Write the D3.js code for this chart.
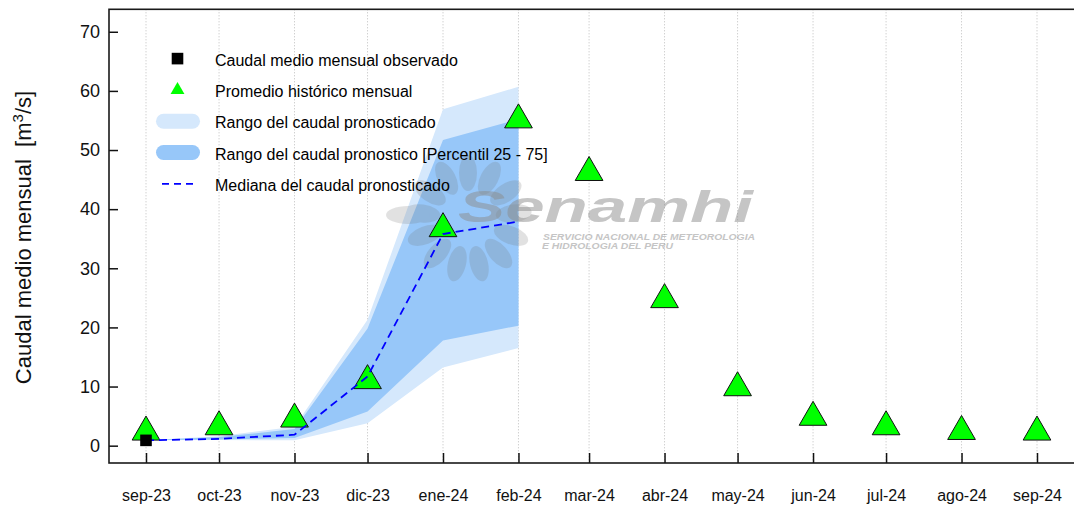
<!DOCTYPE html>
<html>
<head>
<meta charset="utf-8">
<script src="https://cdn.jsdelivr.net/npm/d3@7"></script>
<style>
  html, body { margin: 0; padding: 0; background: #fff; }
  svg { display: block; font-family: "Liberation Sans", Arial, sans-serif; }
</style>
</head>
<body>
<svg id="chart" width="1074" height="506"></svg>
<script>
// Monthly labels (Spanish abbreviations) and their month dates
const monthLabels = ["sep-23", "oct-23", "nov-23", "dic-23", "ene-24", "feb-24",
                     "mar-24", "abr-24", "may-24", "jun-24", "jul-24", "ago-24", "sep-24"];
const monthDates = [
  "2023-09-01", "2023-10-01", "2023-11-01", "2023-12-01", "2024-01-01", "2024-02-01",
  "2024-03-01", "2024-04-01", "2024-05-01", "2024-06-01", "2024-07-01", "2024-08-01", "2024-09-01"
];

// Historical monthly mean flow (m3/s), one per month
const historicalMean = [2.3, 3.2, 4.5, 11.0, 36.7, 55.1, 46.2, 24.7, 9.8, 4.8, 3.2, 2.4, 2.3];

// Observed monthly mean flow (only the first month)
const observed = [0.9];

// Forecast months (first six months)
const forecastMin    = [0.9, 0.95, 0.9, 3.8, 13.2, 16.5];
const forecastMax    = [0.9, 1.6, 3.2, 21.3, 56.9, 60.7];
const forecastP25    = [0.9, 1.05, 1.3, 5.8, 17.8, 20.3];
const forecastP75    = [0.9, 1.45, 2.8, 19.8, 51.7, 55.2];
const forecastMedian = [0.9, 1.15, 1.85, 11.7, 35.8, 37.9];

const yTicks = [0, 10, 20, 30, 40, 50, 60, 70];

const legendLabels = [
  "Caudal medio mensual observado",
  "Promedio histórico mensual",
  "Rango del caudal pronosticado",
  "Rango del caudal pronostico [Percentil 25 - 75]",
  "Mediana del caudal pronosticado"
];

// ---- layout ----
const svg = d3.select("#chart");
const plot = { left: 109, top: 9.3, right: 1080, bottom: 463 };

const parse = d3.utcParse("%Y-%m-%d");
const dates = monthDates.map(parse);

const x = d3.scaleUtc()
  .domain([dates[0], dates[dates.length - 1]])
  .range([146, 1037]);

const y = d3.scaleLinear()
  .domain([-2.93, 73.8])
  .range([plot.bottom, plot.top]);

const colors = {
  outer: "#d5e8fc",
  inner: "#97c7f9",
  median: "#0000ff",
  hist: "#00ff00"
};

// vertical dotted grid at each month
svg.append("g")
  .selectAll("line")
  .data(dates)
  .join("line")
  .attr("x1", d => x(d)).attr("x2", d => x(d))
  .attr("y1", plot.top).attr("y2", plot.bottom)
  .attr("stroke", "#bdbdbd")
  .attr("stroke-width", 1)
  .attr("stroke-dasharray", "1,2");

// forecast bands
const fIdx = d3.range(forecastMin.length);
const outerArea = d3.area()
  .x(i => x(dates[i]))
  .y0(i => y(forecastMin[i]))
  .y1(i => y(forecastMax[i]));
const innerArea = d3.area()
  .x(i => x(dates[i]))
  .y0(i => y(forecastP25[i]))
  .y1(i => y(forecastP75[i]));

svg.append("path").datum(fIdx).attr("d", outerArea).attr("fill", colors.outer);
svg.append("path").datum(fIdx).attr("d", innerArea).attr("fill", colors.inner);

// institutional watermark
const wm = svg.append("g").attr("class", "watermark");
const emblem = wm.append("g").attr("transform", "translate(468,219)").attr("opacity", 0.2);
emblem.selectAll("ellipse.petal")
  .data(d3.range(13))
  .join("ellipse")
  .attr("class", "petal")
  .attr("cx", 46).attr("cy", 0)
  .attr("rx", 18).attr("ry", 9)
  .attr("transform", k => `rotate(${k * 360 / 13 - 90})`)
  .attr("fill", "#6f6f6f");
emblem.append("ellipse")
  .attr("cx", -60).attr("cy", -4).attr("rx", 22).attr("ry", 9)
  .attr("fill", "#6f6f6f");
wm.append("text")
  .attr("x", 458).attr("y", 222)
  .attr("font-size", 45)
  .attr("font-weight", "bold")
  .attr("font-style", "italic")
  .attr("textLength", 295)
  .attr("lengthAdjust", "spacingAndGlyphs")
  .attr("fill", "#8c8c8c")
  .attr("opacity", 0.5)
  .text("Senamhi");
wm.append("text")
  .attr("x", 543).attr("y", 239.5)
  .attr("font-size", 9)
  .attr("font-weight", "bold")
  .attr("font-style", "italic")
  .attr("textLength", 212)
  .attr("lengthAdjust", "spacingAndGlyphs")
  .attr("fill", "#8c8c8c")
  .attr("opacity", 0.5)
  .text("SERVICIO NACIONAL DE METEOROLOGIA");
wm.append("text")
  .attr("x", 542).attr("y", 249.3)
  .attr("font-size", 9)
  .attr("font-weight", "bold")
  .attr("font-style", "italic")
  .attr("textLength", 131)
  .attr("lengthAdjust", "spacingAndGlyphs")
  .attr("fill", "#8c8c8c")
  .attr("opacity", 0.5)
  .text("E HIDROLOGIA DEL PERU");

// triangle symbol with its centroid on the value
function triangle(r) {
  const xc = r * Math.sqrt(3) / 2, yc = r / 2;
  return `M0,${-r}L${xc},${yc}L${-xc},${yc}Z`;
}

// historical monthly mean
svg.append("g")
  .selectAll("path")
  .data(historicalMean)
  .join("path")
  .attr("transform", (d, i) => `translate(${x(dates[i])},${y(d)})`)
  .attr("d", triangle(16))
  .attr("fill", colors.hist)
  .attr("stroke", "#111")
  .attr("stroke-width", 1);

// forecast median
svg.append("path")
  .datum(fIdx)
  .attr("d", d3.line().x(i => x(dates[i])).y(i => y(forecastMedian[i])))
  .attr("fill", "none")
  .attr("stroke", colors.median)
  .attr("stroke-width", 1.8)
  .attr("stroke-dasharray", "8,5");

// observed
svg.append("g")
  .selectAll("rect")
  .data(observed)
  .join("rect")
  .attr("x", (d, i) => x(dates[i]) - 5.8)
  .attr("y", d => y(d) - 5.8)
  .attr("width", 11.6).attr("height", 11.6)
  .attr("fill", "#000");

// axes
const yAxis = d3.axisLeft(y)
  .tickValues(yTicks)
  .tickSizeInner(-9).tickSizeOuter(0).tickPadding(9);
const gy = svg.append("g").attr("transform", `translate(${plot.left},0)`).call(yAxis);
gy.select(".domain").remove();
gy.selectAll(".tick line").attr("stroke", "#111").attr("stroke-width", 1.5);
gy.selectAll(".tick text").attr("font-size", 18).attr("fill", "#111")
  .attr("font-family", "'Liberation Sans', Arial, sans-serif");

const xAxis = d3.axisBottom(x)
  .tickValues(dates)
  .tickFormat((d, i) => monthLabels[i])
  .tickSizeInner(-10).tickSizeOuter(0).tickPadding(27);
const gx = svg.append("g").attr("transform", `translate(0,${plot.bottom})`).call(xAxis);
gx.select(".domain").remove();
gx.selectAll(".tick line").attr("stroke", "#111").attr("stroke-width", 1.5);
gx.selectAll(".tick text").attr("font-size", 16).attr("fill", "#111")
  .attr("font-family", "'Liberation Sans', Arial, sans-serif");

// plot frame
svg.append("rect")
  .attr("x", plot.left).attr("y", plot.top)
  .attr("width", plot.right - plot.left).attr("height", plot.bottom - plot.top)
  .attr("fill", "none")
  .attr("stroke", "#1a1a1a")
  .attr("stroke-width", 1.6);

// y axis title
const yt = svg.append("text")
  .attr("transform", "translate(31,237.5) rotate(-90)")
  .attr("text-anchor", "middle")
  .attr("font-size", 22)
  .attr("fill", "#111")
  .style("white-space", "pre");
yt.append("tspan").text("Caudal medio mensual  [m");
yt.append("tspan").attr("font-size", 15).attr("dy", -8).text("3");
yt.append("tspan").attr("dy", 8).text("/s]");

// legend
const legend = svg.append("g");
const lx = 177.5, ltx = 215, lBase = 65.6, lStep = 31.3;
const rowY = i => lBase + i * lStep - 7;

legend.append("rect")
  .attr("x", lx - 5.8).attr("y", rowY(0) - 5.8)
  .attr("width", 11.6).attr("height", 11.6).attr("fill", "#000");
legend.append("path")
  .attr("transform", `translate(${lx},${rowY(1)})`)
  .attr("d", triangle(8))
  .attr("fill", colors.hist);
[colors.outer, colors.inner].forEach((c, k) => {
  legend.append("rect")
    .attr("x", 156).attr("y", rowY(2 + k) - 7.5)
    .attr("width", 44).attr("height", 15)
    .attr("rx", 7.5).attr("ry", 7.5)
    .attr("fill", c);
});
legend.append("line")
  .attr("x1", 162).attr("x2", 196)
  .attr("y1", rowY(4)).attr("y2", rowY(4))
  .attr("stroke", colors.median)
  .attr("stroke-width", 1.8)
  .attr("stroke-dasharray", "7,5");

legend.selectAll("text")
  .data(legendLabels)
  .join("text")
  .attr("x", ltx)
  .attr("y", (d, i) => lBase + i * lStep)
  .attr("font-size", 16)
  .attr("fill", "#000")
  .text(d => d);
</script>
</body>
</html>
